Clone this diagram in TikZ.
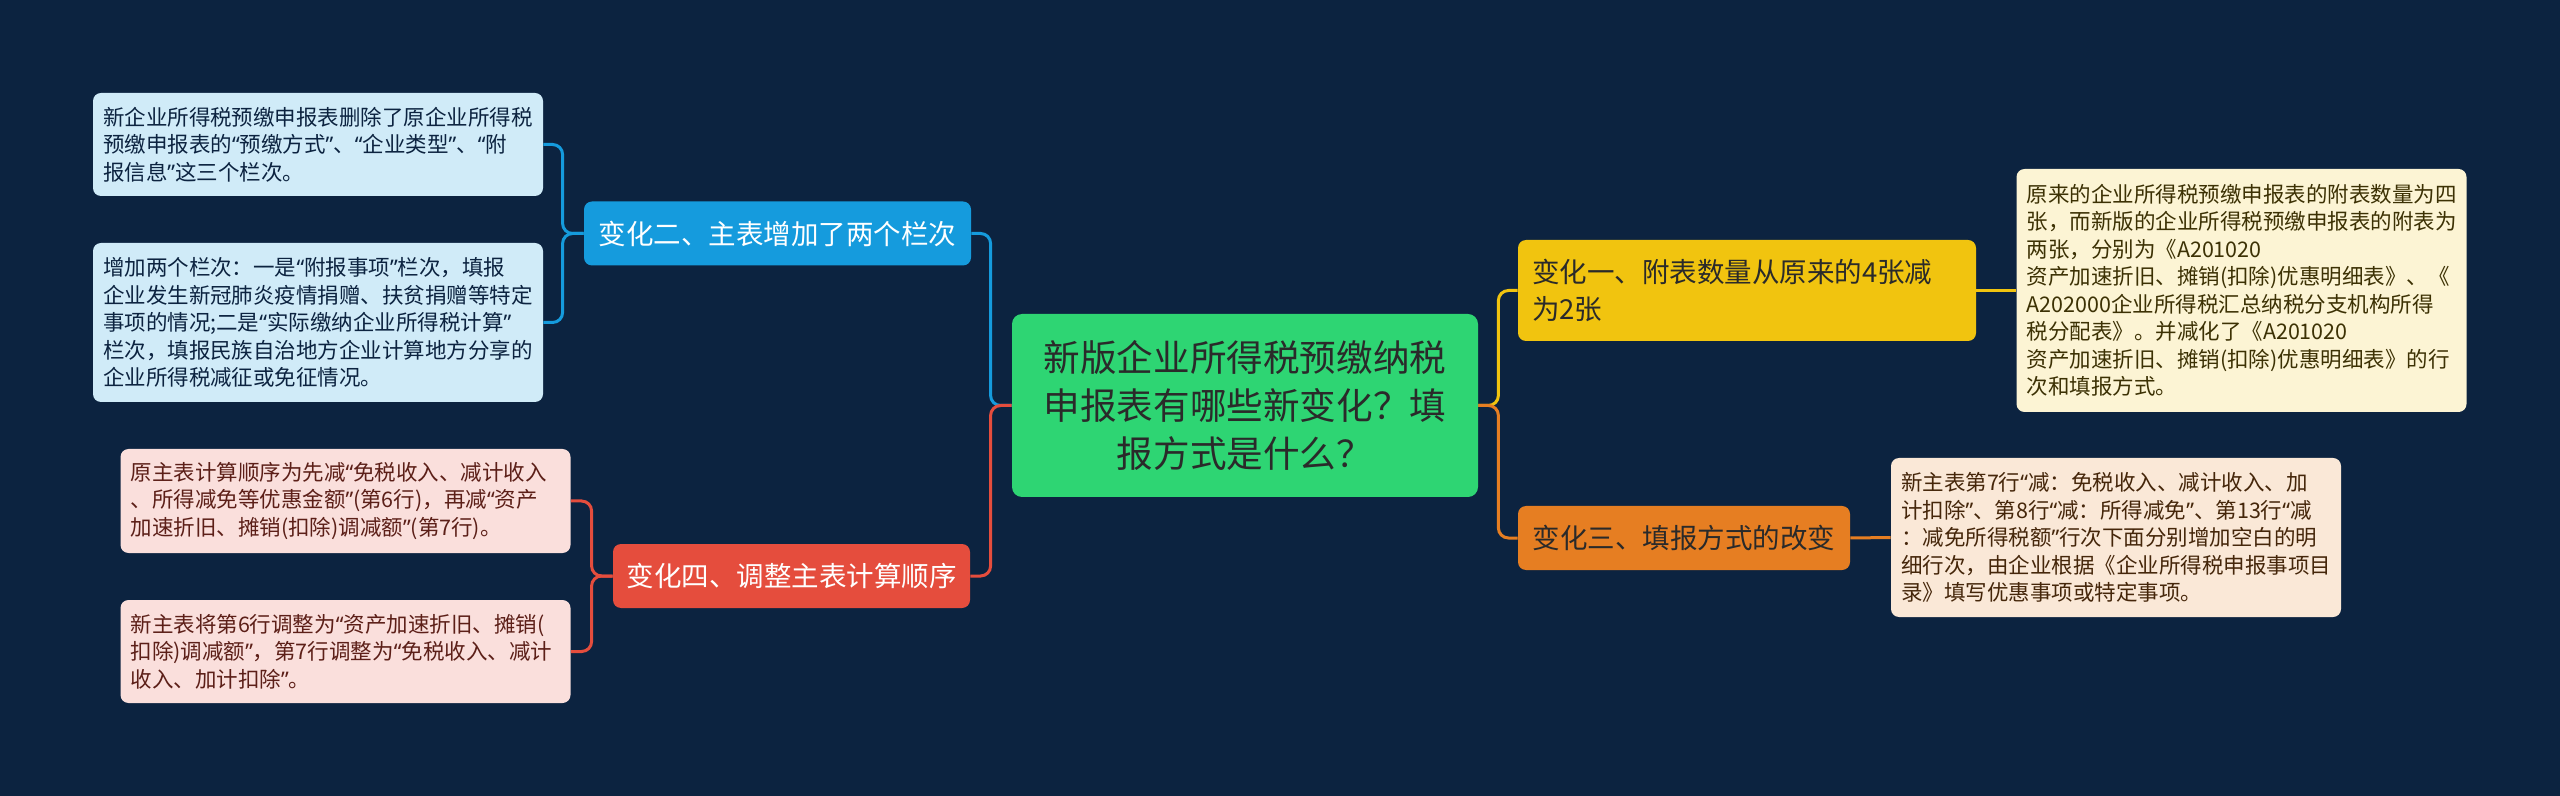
\documentclass[tikz,border=0pt]{standalone}
\usepackage{fontspec}
\setmainfont{Noto Sans CJK SC}
\newfontfamily\mmqfont{Noto Sans}
\newcommand{\mmlq}{{\mmqfont “}}
\newcommand{\mmrq}{{\mmqfont ”}}
\definecolor{mmbg}{HTML}{0C2340}
\definecolor{mmgreen}{HTML}{2ED573}
\definecolor{mmblue}{HTML}{159BDD}
\definecolor{mmred}{HTML}{E54D3D}
\definecolor{mmyellow}{HTML}{F1C40F}
\definecolor{mmorange}{HTML}{E67E22}
\definecolor{mmdark}{HTML}{2A2A2A}
\tikzset{
  mmnode/.style={rectangle, rounded corners=4pt, inner sep=0pt},
  mmroot/.style={mmnode, rounded corners=5pt, fill=mmgreen, text=mmdark,
                 minimum width=233pt, minimum height=91.5pt, align=center,
                 font=\fontsize{18.3pt}{24pt}\selectfont},
  mmbranch/.style={mmnode, minimum height=32pt, align=center,
                   font=\fontsize{13.75pt}{18.3pt}\selectfont},
  mmleaf/.style={mmnode, inner xsep=5pt, text width=215pt, align=left,
                 font=\fontsize{10.75pt}{13.75pt}\selectfont},
  mmbluel/.style={mmleaf, fill=mmblue!20, text=mmbg},
  mmredl/.style={mmleaf, fill=mmred!18, text=mmred!40!black},
  mmyellowl/.style={mmleaf, fill=mmyellow!18, text=mmyellow!25!black},
  mmorangel/.style={mmleaf, fill=mmorange!18, text=mmorange!30!black},
  mmlink/.style={line width=1.5pt, rounded corners=5pt},
}
\begin{document}
\begin{tikzpicture}[x=0.5pt, y=-0.5pt]
    \fill[mmbg] (0,0) rectangle (2560,796);
    \useasboundingbox (0,0) rectangle (2560,796);
    % Tema central
    \node[mmroot] (root) at (1245,405.5)
      {新版企业所得税预缴纳税\\申报表有哪些新变化？填\\报方式是什么？};
    % Ramos
    \node[mmbranch, fill=mmblue, text=white, minimum width=193.5pt] (chg2) at (777.5,233.5)
      {变化二、主表增加了两个栏次};
    \node[mmbranch, fill=mmred, text=white, minimum width=178.5pt] (chg4) at (791.5,576)
      {变化四、调整主表计算顺序};
    \node[mmbranch, fill=mmyellow, text=mmdark, minimum width=229pt, minimum height=50.5pt,
          inner xsep=7pt, text width=215pt, align=left] (chg1) at (1747,290.5)
      {变化一、附表数量从原来的4张减\\为2张};
    \node[mmbranch, fill=mmorange, text=mmdark, minimum width=166pt] (chg3) at (1684,538)
      {变化三、填报方式的改变};
    % Folhas
    \node[mmbluel, minimum height=51.5pt] (chg2a) at (318,144.5)
      {新企业所得税预缴申报表删除了原企业所得税\\预缴申报表的\mmlq 预缴方式\mmrq 、\mmlq 企业类型\mmrq 、\mmlq 附\\报信息\mmrq 这三个栏次。};
    \node[mmbluel, minimum height=79.5pt] (chg2b) at (318,322.5)
      {增加两个栏次：一是\mmlq 附报事项\mmrq 栏次，填报\\企业发生新冠肺炎疫情捐赠、扶贫捐赠等特定\\事项的情况;二是\mmlq 实际缴纳企业所得税计算\mmrq\\栏次，填报民族自治地方企业计算地方分享的\\企业所得税减征或免征情况。};
    \node[mmredl, minimum height=52pt] (chg4a) at (345.5,501)
      {原主表计算顺序为先减\mmlq 免税收入、减计收入\\、所得减免等优惠金额\mmrq(第6行)，再减\mmlq 资产\\加速折旧、摊销(扣除)调减额\mmrq(第7行)。};
    \node[mmredl, minimum height=51.5pt] (chg4b) at (345.5,651.5)
      {新主表将第6行调整为\mmlq 资产加速折旧、摊销(\\扣除)调减额\mmrq，第7行调整为\mmlq 免税收入、减计\\收入、加计扣除\mmrq。};
    \node[mmyellowl, minimum height=121.5pt] (chg1a) at (2241.5,290.5)
      {原来的企业所得税预缴申报表的附表数量为四\\张，而新版的企业所得税预缴申报表的附表为\\两张，分别为《A201020\\资产加速折旧、摊销(扣除)优惠明细表》、《\\A202000企业所得税汇总纳税分支机构所得\\税分配表》。并减化了《A201020\\资产加速折旧、摊销(扣除)优惠明细表》的行\\次和填报方式。};
    \node[mmorangel, minimum height=79.5pt] (chg3a) at (2116,537.5)
      {新主表第7行\mmlq 减：免税收入、减计收入、加\\计扣除\mmrq 、第8行\mmlq 减：所得减免\mmrq 、第13行\mmlq 减\\：减免所得税额\mmrq 行次下面分别增加空白的明\\细行次，由企业根据《企业所得税申报事项目\\录》填写优惠事项或特定事项。};
    % Ligacoes
    \draw[mmlink, mmblue] (root.west) -- ++(-21,0) |- (chg2.east);
    \draw[mmlink, mmred] (root.west) -- ++(-21,0) |- (chg4.east);
    \draw[mmlink, mmyellow] (root.east) -- ++(20,0) |- (chg1.west);
    \draw[mmlink, mmorange] (root.east) -- ++(20,0) |- (chg3.west);
    \draw[mmlink, mmblue] (chg2.west) -- ++(-21,0) |- (chg2a.east);
    \draw[mmlink, mmblue] (chg2.west) -- ++(-21,0) |- (chg2b.east);
    \draw[mmlink, mmred] (chg4.west) -- ++(-21,0) |- (chg4a.east);
    \draw[mmlink, mmred] (chg4.west) -- ++(-21,0) |- (chg4b.east);
    \draw[mmlink, mmyellow] (chg1.east) -- (chg1a.west);
    \draw[mmlink, mmorange] (chg3.east) -- (chg3a.west);
  \end{tikzpicture}
\end{document}
